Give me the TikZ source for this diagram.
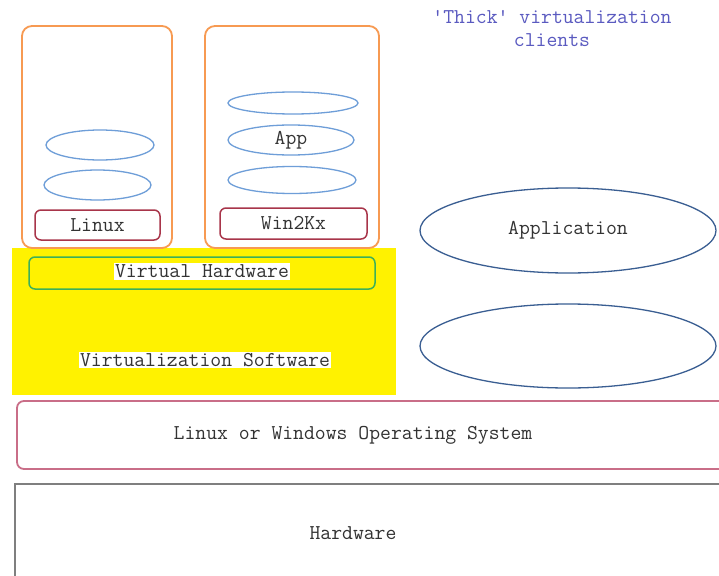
\documentclass[tikz,border=0pt]{standalone}
\usetikzlibrary{shapes.geometric}
\definecolor{orangeb}{HTML}{F79A52}
\definecolor{redb}{HTML}{A8354A}
\definecolor{pinkb}{HTML}{C96E88}
\definecolor{lblue}{HTML}{6E9ED8}
\definecolor{dblue}{HTML}{3A5E92}
\definecolor{greenb}{HTML}{3DB05A}
\definecolor{ylw}{HTML}{FFF200}
\definecolor{grayb}{HTML}{7F7F7F}
\definecolor{titleblue}{HTML}{5A5AC0}
\tikzset{
  txt/.style={font=\ttfamily\fontsize{21.1}{23}\selectfont, text=black!80},
  client/.style={draw=orangeb, line width=1.8pt, rounded corners=10pt, inner sep=0pt},
  osbox/.style={draw=redb, line width=1.5pt, rounded corners=6pt, inner sep=0pt, txt},
  smallell/.style={ellipse, draw=lblue, line width=1.3pt, inner sep=0pt, txt},
  bigell/.style={ellipse, draw=dblue, line width=1.3pt, inner sep=0pt, txt},
}
\begin{document}
\begin{tikzpicture}[x=1pt,y=-1pt]
\useasboundingbox (0,0) rectangle (719,575);
\clip (0,0) rectangle (719,575);
\fill[white] (0,0) rectangle (719,575);
% title
\node[txt, text=titleblue, align=center] (title) at (552,28.5) {'Thick' virtualization\\clients};
% yellow virtualization layer
\node[fill=ylw, inner sep=0pt, minimum width=384pt, minimum height=147pt] (virt) at (204,321.5) {};
\node[osbox, draw=greenb, minimum width=346pt, minimum height=32pt] (vhw) at (202,273) {};
\node[txt, fill=white, inner sep=1.5pt] (vhwtxt) at (202,271.5) {Virtual Hardware};
\node[txt, fill=white, inner sep=1.5pt] (vswtxt) at (205,360) {Virtualization Software};
% client boxes
\node[client, minimum width=150pt, minimum height=222pt] (c1) at (97,137) {};
\node[client, minimum width=174pt, minimum height=222pt] (c2) at (292,137) {};
\node[smallell, minimum width=108pt, minimum height=30pt] (l1) at (100,145) {};
\node[smallell, minimum width=107pt, minimum height=30pt] (l2) at (97.5,185) {};
\node[osbox, minimum width=125pt, minimum height=30pt] (linux) at (97.5,225) {Linux};
\node[smallell, minimum width=130pt, minimum height=22pt] (w1) at (293,103) {};
\node[smallell, minimum width=126pt, minimum height=30pt] (w2) at (291,140) {App};
\node[smallell, minimum width=128pt, minimum height=27pt] (w3) at (292,180) {};
\node[osbox, minimum width=147pt, minimum height=31pt] (win) at (293.5,223.5) {Win2Kx};
% right ellipses
\node[bigell, minimum width=296pt, minimum height=85pt] (app) at (568,230.5) {Application};
\node[bigell, minimum width=296pt, minimum height=84pt] (e2) at (568,346) {};
% OS layer
\node[draw=pinkb, line width=1.8pt, rounded corners=7pt, inner sep=0pt, minimum width=723pt, minimum height=68pt] (os) at (378.5,435) {};
\node[txt] (ostxt) at (353,435) {Linux or Windows Operating System};
% Hardware
\node[draw=grayb, line width=1.3pt, inner sep=0pt, minimum width=725pt, minimum height=116pt] (hw) at (377.5,542) {};
\node[txt] (hwtxt) at (353,533) {Hardware};
\end{tikzpicture}
\end{document}
